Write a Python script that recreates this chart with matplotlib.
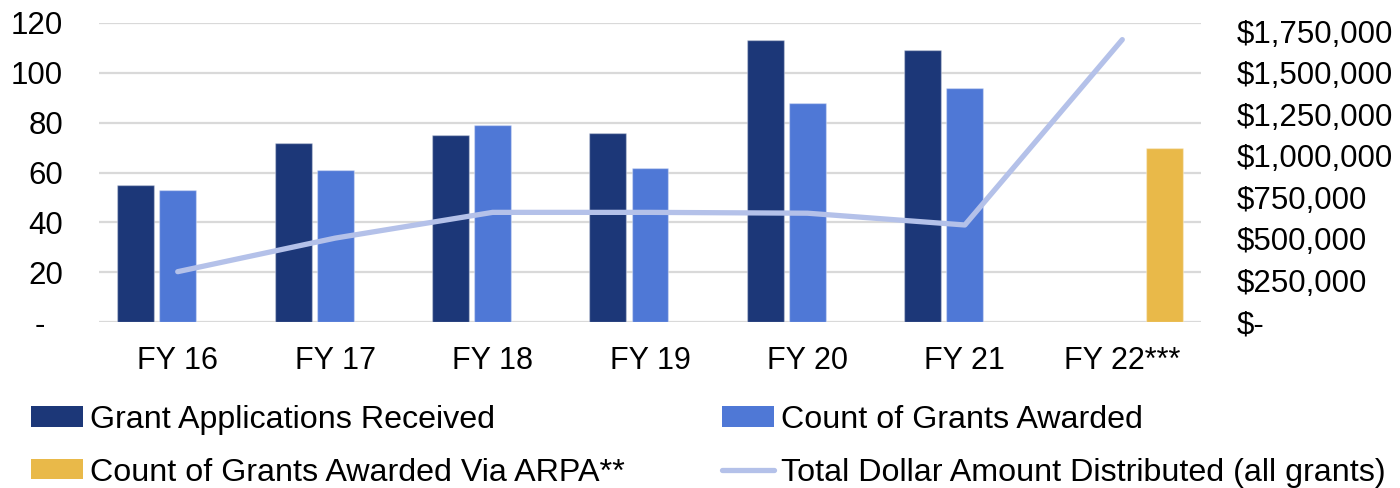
import numpy as np
import matplotlib
matplotlib.use("Agg")
import matplotlib.pyplot as plt
from matplotlib.patches import Patch
from matplotlib.lines import Line2D
from matplotlib.ticker import FixedLocator, FuncFormatter

plt.rcParams['font.family'] = ['Liberation Sans', 'DejaVu Sans']

# ---- data ----
years = ["FY 16", "FY 17", "FY 18", "FY 19", "FY 20", "FY 21", "FY 22***"]
applications = [55, 72, 75, 76, 113, 109, np.nan]
awarded = [53, 61, 79, 62, 88, 94, np.nan]
awarded_arpa = [np.nan, np.nan, np.nan, np.nan, np.nan, np.nan, 70]
dollars = [303000, 505000, 660000, 660000, 655000, 584000, 1700000]

count_ticks = [0, 20, 40, 60, 80, 100, 120]
dollar_ticks = [0, 250000, 500000, 750000, 1000000, 1250000, 1500000, 1750000]

# ---- style ----
c_apps = "#1C3778"
c_award = "#4F78D6"
c_arpa = "#E9B949"
c_line = "#B4C1E9"
c_grid = "#D9D9D9"
fs = 22.5

fig = plt.figure(figsize=(14, 4.88), dpi=100)
ax = fig.add_axes([99 / 1400, 166 / 488, 1102 / 1400, 299 / 488])

x = np.arange(len(years))
slot = 0.267
bw = 0.235
ax.bar(x - slot, applications, bw, color=c_apps, edgecolor=(1, 1, 1, 0.35), linewidth=1, zorder=2)
ax.bar(x, awarded, bw, color=c_award, edgecolor=(1, 1, 1, 0.35), linewidth=1, zorder=2)
ax.bar(x + slot, awarded_arpa, bw, color=c_arpa, edgecolor=(1, 1, 1, 0.35), linewidth=1, zorder=2)

ax.set_xlim(-0.5, len(years) - 0.5)
ax.set_ylim(0, 120)
ax.yaxis.set_major_locator(FixedLocator(count_ticks))
ax.yaxis.set_major_formatter(FuncFormatter(lambda v, p: "-  " if v == 0 else f"{int(v)}"))
ax.set_xticks(x)
ax.set_xticklabels(years)
ax.grid(axis='y', color=c_grid, linewidth=1.6, zorder=0)
ax.set_axisbelow(True)
for s in ax.spines.values():
    s.set_visible(False)
ax.tick_params(axis='y', length=0, pad=26, labelsize=fs)
ax.tick_params(axis='x', length=0, pad=17, labelsize=fs - 0.5)

ax2 = ax.twinx()
ax2.plot(x, dollars, color=c_line, linewidth=3.8, solid_capstyle='round',
         solid_joinstyle='round', zorder=3)
ax2.set_ylim(0, 1800000)
ax2.yaxis.set_major_locator(FixedLocator(dollar_ticks))
ax2.yaxis.set_major_formatter(FuncFormatter(lambda v, p: "$-" if v == 0 else f"${int(v):,}"))
for s in ax2.spines.values():
    s.set_visible(False)
ax2.tick_params(axis='y', length=0, pad=26, labelsize=fs)

handles = [
    Patch(facecolor=c_apps, label="Grant Applications Received"),
    Patch(facecolor=c_arpa, label="Count of Grants Awarded Via ARPA**"),
    Patch(facecolor=c_award, label="Count of Grants Awarded"),
    Line2D([], [], color=c_line, linewidth=3.8, solid_capstyle='round',
           label="Total Dollar Amount Distributed (all grants)"),
]
fig.legend(handles=handles, ncol=2, loc='upper left',
           bbox_to_anchor=(31 / 1400, 1 - 405 / 488), frameon=False,
           fontsize=23.2, handlelength=1.62, handleheight=0.6,
           handletextpad=0.2, columnspacing=3.03, labelspacing=0.7,
           borderpad=0, borderaxespad=0)

fig.savefig("out.png", dpi=100)
